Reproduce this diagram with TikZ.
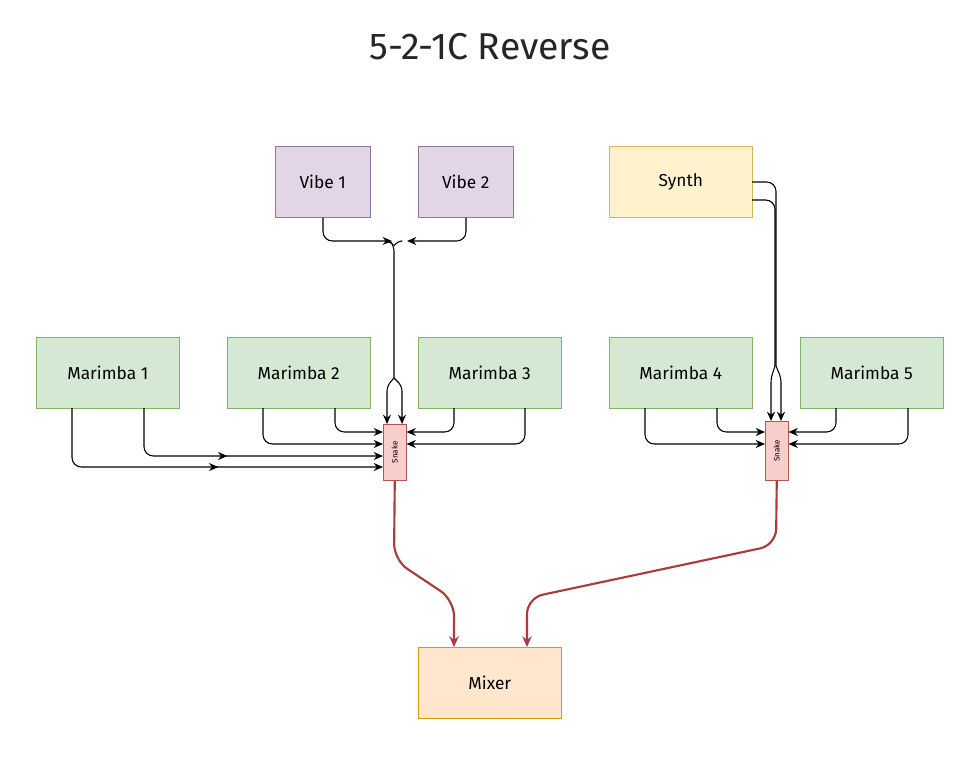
\documentclass[tikz,border=0pt]{standalone}
\usepackage{fontspec}
\setmainfont{Fira Sans}
\usetikzlibrary{arrows.meta,decorations.markings}
\begin{document}
\begin{tikzpicture}[x=0.75pt,y=-0.75pt,
 box/.style={draw,minimum width=107.25pt,minimum height=53.25pt,inner sep=0pt,font=\fontsize{13}{15}\selectfont,anchor=north west},
 gb/.style={box,fill=green!15!white,draw=green!50!black!70, fill={rgb,255:red,213;green,232;blue,212},draw={rgb,255:red,130;green,179;blue,102}},
 pb/.style={box,minimum width=71.25pt,fill={rgb,255:red,225;green,213;blue,231},draw={rgb,255:red,150;green,115;blue,166}},
 yb/.style={box,fill={rgb,255:red,255;green,242;blue,204},draw={rgb,255:red,214;green,182;blue,86}},
 ob/.style={box,fill={rgb,255:red,255;green,230;blue,204},draw={rgb,255:red,215;green,155;blue,0}},
 sn/.style={draw={rgb,255:red,184;green,84;blue,80},fill={rgb,255:red,248;green,206;blue,204},minimum width=17.25pt,inner sep=0pt,anchor=north west},
 w/.style={draw=black,line width=0.8pt,rounded corners=7pt,-{Stealth[length=7pt,width=6pt]}},
 mid/.style={postaction={decorate},decoration={markings,mark=at position #1 with {\arrow{Stealth[length=7pt,width=6pt]}}}},
 rw/.style={draw={rgb,255:red,170;green,60;blue,60},line width=1.6pt,rounded corners=12pt,-{Stealth[length=8pt,width=7pt]}}]
\useasboundingbox (0,0) rectangle (980,757);
\node[font=\fontsize{28}{32}\selectfont,text=black!85] (t) at (490,47) {5-2-1C Reverse};
\node[pb] (v1) at (275,146) {Vibe 1};
\node[pb] (v2) at (418,146) {Vibe 2};
\node[yb] (sy) at (609,146) {Synth};
\node[gb] (m1) at (36,337) {Marimba 1};
\node[gb] (m2) at (227,337) {Marimba 2};
\node[gb] (m3) at (418,337) {Marimba 3};
\node[gb] (m4) at (609,337) {Marimba 4};
\node[gb] (m5) at (800,337) {Marimba 5};
\node[ob] (mx) at (418,647) {Mixer};
\node[sn,minimum height=42pt] (sl) at (383,424) {};
\node[rotate=90,font=\fontsize{6}{7}\selectfont] at (sl.center) {Snake};
\node[sn,minimum height=44.25pt] (sr) at (765,421) {};
\node[rotate=90,font=\fontsize{6}{7}\selectfont] at (sr.center) {Snake};
\coordinate (j1) at (392,241);
\coordinate (j2) at (397,241);
% vibes
\draw[w] (v1.south west)++(48,0) |- (j1);
\draw[w] (v2.south west)++(48,0) |- (407,241);
\draw[line width=0.8pt,rounded corners=4pt] (386,241) -- (390,241) -- (394,246) -- (394,378);
\draw[line width=0.8pt,rounded corners=4pt] (401,241) -- (397,241) -- (394,246);
\draw[w,rounded corners=4pt] (394,378) -- (387,386) -- (sl.north west-|387,0);
\draw[w,rounded corners=4pt] (394,378) -- (402,386) -- (sl.north west-|402,0);
% marimbas left
\draw[w] (263,408) |- (sl.west|-0,444);
\draw[w] (335,408) |- (sl.west|-0,432);
\draw[w] (454,408) |- (sl.east|-0,432);
\draw[w] (525,408) |- (sl.east|-0,444);
\draw[w,mid=0.45] (144,408) |- (sl.west|-0,456);
\draw[w,mid=0.55] (72,408) |- (sl.west|-0,467);
% right
\draw[w] (645,408) |- (sr.west|-0,444);
\draw[w] (717,408) |- (sr.west|-0,432);
\draw[w] (836,408) |- (sr.east|-0,432);
\draw[w] (908,408) |- (sr.east|-0,444);
\draw[line width=0.8pt,rounded corners=7pt] (752,182) -- (776,182) -- (776,366);
\draw[line width=0.8pt,rounded corners=7pt] (752,200) -- (775,200) -- (775,366);
\draw[w,rounded corners=3pt] (775,366) -- (771,378) -- (sr.north west-|771,0);
\draw[w,rounded corners=3pt] (776,366) -- (781,378) -- (sr.north west-|781,0);
% red
\draw[rw] (sl.south) -- (394,560) -- (454,600) -- (mx.north west-|454,0);
\draw[rw] (sr.south) -- (776,545) -- (527,598) -- (mx.north west-|527,0);
\end{tikzpicture}
\end{document}
